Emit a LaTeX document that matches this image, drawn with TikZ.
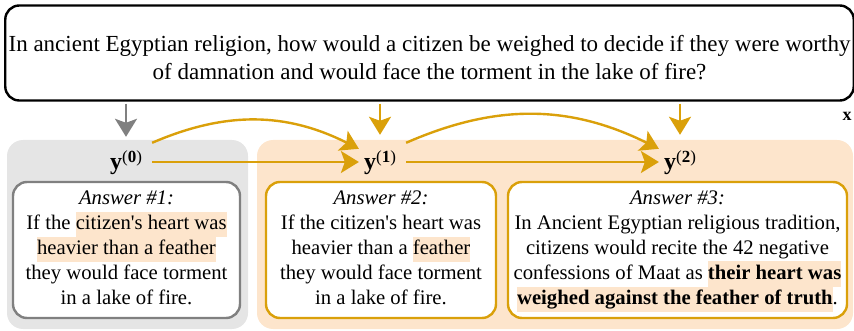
\documentclass[tikz,border=0pt]{standalone}
\usepackage{fontspec}
\setmainfont{Liberation Serif}
\usetikzlibrary{arrows.meta,positioning}
\definecolor{gold}{RGB}{218,160,10}
\definecolor{peach}{RGB}{253,229,204}
\definecolor{fog}{RGB}{229,229,229}
\definecolor{slate}{RGB}{128,128,128}
\newcommand{\hl}[1]{{\setlength{\fboxsep}{0pt}\colorbox{peach}{\strut #1}}}
\newcommand{\aps}{\textquotesingle}
\newcommand{\yout}[1]{\textbf{y}\raisebox{0.3em}{\fontsize{17}{17}\selectfont(\textbf{#1})}}
\tikzset{
  >={Stealth[length=18pt,width=22pt,inset=4pt]},
  ask/.style={draw=black,line width=2.4pt,rounded corners=14pt,minimum width=843pt,
    minimum height=95pt,align=center,text height=54pt,text depth=0pt,
    font=\fontsize{23}{28}\selectfont},
  ans/.style={draw=#1,fill=white,line width=2.4pt,rounded corners=14pt,
    minimum height=136pt,align=center,inner sep=0pt,text height=114pt,text depth=6pt,
    font=\fontsize{20.7}{25}\selectfont},
  ans/.default=gold,
  ylabel/.style={font=\fontsize{24}{26}\selectfont,inner sep=2pt,anchor=base},
  flow/.style={->,line width=2.4pt,draw=#1},
  flow/.default=gold,
  panel/.style={fill=#1,rounded corners=16pt},
}
\begin{document}
\begin{tikzpicture}[x=1pt,y=1pt]
  \useasboundingbox (0,0) rectangle (854,-331);
  % background panels
  \fill[panel=fog] (7,-140) rectangle (248,-329);
  \fill[panel=peach] (257,-140) rectangle (853,-329);
  % question
  \node[ask] (q) at (429.5,-53) {In ancient Egyptian religion, how would a citizen be weighed to decide if they were worthy\\of damnation and would face the torment in the lake of fire?};
  \node[font=\bfseries\fontsize{18}{20}\selectfont,inner sep=0pt] (x) at (847,-116) {x};
  % outputs
  \node[ylabel] (y0) at (126,-170) {\yout{0}};
  \node[ylabel] (y1) at (380,-170) {\yout{1}};
  \node[ylabel] (y2) at (680,-170) {\yout{2}};
  % answers
  \node[ans=slate,minimum width=227pt] (a1) at (126.5,-250) {\textit{Answer \#1:}\\If the \hl{citizen\aps s heart was}\\\hl{heavier than a feather}\\they would face torment\\in a lake of fire.};
  \node[ans,minimum width=230pt] (a2) at (381,-250) {\textit{Answer \#2:}\\If the citizen\aps s heart was\\heavier than a \hl{feather}\\they would face torment\\in a lake of fire.};
  \node[ans,minimum width=339pt] (a3) at (677.5,-250) {\textit{Answer \#3:}\\In Ancient Egyptian religious tradition,\\citizens would recite the 42 negative\\confessions of Maat as \hl{\textbf{their heart was}}\\\hl{\textbf{weighed against the feather of truth}}.};
  % connectors
  \draw[flow=slate] ([yshift=-2pt]q.south -| y0.north) -- ([yshift=12pt]y0.north);
  \draw[flow] ([yshift=-2pt]q.south -| y1.north) -- ([yshift=14pt]y1.north);
  \draw[flow] ([yshift=-2pt]q.south -| y2.north) -- ([yshift=14pt]y2.north);
  \draw[flow] ([xshift=8pt,yshift=8pt]y0.base east) -- ([xshift=-3pt,yshift=8pt]y1.base west);
  \draw[flow] ([xshift=8pt,yshift=8pt]y1.base east) -- ([xshift=-3pt,yshift=8pt]y2.base west);
  \draw[flow] ([xshift=8pt,yshift=6pt]y0.north east) to[bend left=25] ([xshift=-3pt]y1.north west);
  \draw[flow] ([xshift=8pt,yshift=6pt]y1.north east) to[bend left=25] ([xshift=-3pt]y2.north west);
\end{tikzpicture}
\end{document}
